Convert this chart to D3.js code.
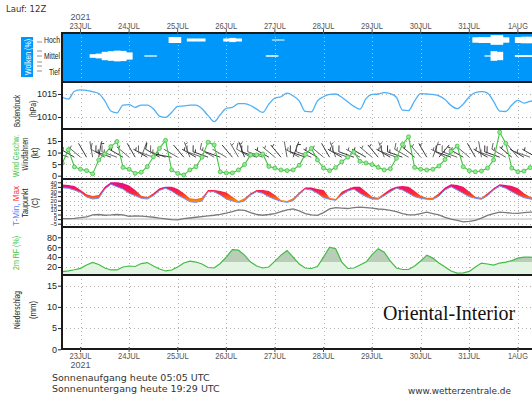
<!DOCTYPE html>
<html><head><meta charset="utf-8">
<script src="https://cdn.jsdelivr.net/npm/d3@7"></script>
<style>body{margin:0;background:#fff}svg{display:block}</style>
</head><body><svg id="c" width="532" height="395"></svg>
<script>
// ---------------- DATA ----------------
const runLabel = "Lauf: 12Z";
const yearLabel = "2021";
const dayLabels = ["23JUL","24JUL","25JUL","26JUL","27JUL","28JUL","29JUL","30JUL","31JUL","1AUG"];
const placeName = "Oriental-Interior";
const sunrise = "Sonnenaufgang heute 05:05 UTC";
const sunset = "Sonnenuntergang heute 19:29 UTC";
const credit = "www.wetterzentrale.de";
const cloudLevels = ["Hoch","Mittel","Tief"];
const pressureTicks = [1010,1015];
const windTicks = [0,5,10,15];
const tempTicks = [-5,0,5,10,15,20,25,30,35,40];
const rhTicks = [20,40,60,80];
const precipTicks = [0,5,10,15];
// 3-hourly values from 22 Jul 15Z
const cloudHigh = [0,0,0,0,0,0,0,0,0,0, 0,0,0,0,0,0,0,0,50,50, 0,25,25,25,0,0,0,25,35,25, 0,0,0,0,0,8,8,0,0,0, 0,0,0,0,0,0,0,0,0,0, 0,0,0,0,0,0,0,0,0,0, 0,0,0,0,0,0,0,0,45,50, 50,80,80,45,0,50,55,55,50];
const cloudMid = [0,0,0,0,0,30,40,70,80,90, 85,60,0,0,10,10,0,0,0,0, 0,0,0,0,0,0,0,0,0,0, 0,0,0,0,12,12,0,0,0,0, 0,0,0,0,0,0,0,0,0,0, 0,0,0,0,0,0,0,0,0,0, 0,0,0,0,0,0,0,0,0,0, 10,80,70,0,0,15,15,15,15];
const cloudLow = [0,0,0,0,0,0,0,0,0,0, 0,0,0,0,0,0,0,0,0,0, 0,0,0,0,0,0,0,0,0,0, 0,0,0,0,0,0,0,0,0,0, 0,0,0,0,0,0,0,0,0,0, 0,0,0,0,0,0,0,0,0,0, 0,0,0,0,0,0,0,0,0,0, 0,0,0,0,0,0,0,0,0];
const pressure = [1014.3,1013.9,1015.6,1015.9,1015.8,1015.5,1015.1,1013.5,1011.3,1010.9, 1012.6,1012.7,1012.1,1012.6,1012.6,1011.8,1010.2,1009.9,1011.0,1012.3, 1012.4,1012.6,1012.6,1011.8,1010.3,1009.0,1010.5,1011.9,1012.1,1012.9, 1012.9,1012.5,1011.7,1011.0,1012.8,1014.1,1014.4,1015.2,1014.6,1013.5, 1011.2,1011.1,1013.5,1014.4,1014.9,1015.0,1014.3,1013.3,1012.3,1011.7, 1014.0,1014.9,1015.0,1015.3,1015.1,1014.3,1011.5,1011.4,1013.5,1015.1, 1015.0,1014.9,1014.6,1013.8,1012.5,1011.8,1012.8,1014.4,1015.3,1015.5, 1015.2,1013.4,1011.3,1011.2,1012.6,1013.6,1013.0,1013.4,1013.6];
const windSpeed = [5.4,11.2,3.8,2.8,2.2,0.8,6.8,9.4,12.6,14.8, 3.6,2.8,1.0,1.5,3.9,8.2,11.8,15.3,2.5,1.0, 0.3,2.5,3.9,8.0,14.5,13.3,1.7,1.2,1.2,2.5, 4.8,9.0,9.0,9.4,4.0,3.3,2.5,2.2,2.5,4.5, 9.2,11.8,6.8,3.3,2.2,3.5,6.0,8.0,10.2,6.2, 5.5,4.8,3.6,2.5,3.0,7.5,13.5,16.8,3.6,2.8, 2.5,2.8,4.2,7.0,10.5,12.8,3.9,2.2,1.7,2.0, 3.3,6.8,18.8,14.0,3.3,1.7,2.0,3.5,4.5];
const windDir = [300,290,300,310,330,350,10,300,290,290, 300,310,330,20,300,290,300,290,280,300, 320,340,300,290,290,300,290,300,320,330, 340,300,290,290,300,310,320,350,20,300, 290,290,300,310,330,340,300,290,290,300, 300,310,320,340,300,290,290,300,310,320, 330,20,40,300,290,290,300,310,330,350, 300,290,290,300,310,320,300,290,300];
const tMax = [37.5,37,36,31.6,27,25,26.2,35.2,40,40, 39,36.4,31.6,25.4,24,28,33.5,35.2,35.2,32.8, 28,22.6,21.8,23.3,31.6,31.6,30.5,29,24.3,19.7, 22.6,28,31.6,31.6,30.5,26.2,20.8,19.7,22.6,29, 34.3,34.3,32.8,31.6,23.3,21.8,29.8,32.8,35.2,35.2, 29.8,24.3,23.3,28,32.8,35.2,36,35.2,30.5,25.4, 23.3,23.3,28,34.3,37.8,37.1,35.2,29.8,24.3,23.3, 28,33.5,37.8,37.1,36,33.5,28,24.3,23];
const tMin = [34,33.5,31.5,29,24,21.8,22.6,32.5,37.8,35.2, 32.6,28,25.4,22.6,21.8,25.4,31.2,33.5,30.5,26.2, 22.6,18.9,18.2,19.7,29.8,29.8,26.2,21.8,19.7,18, 19.7,26.2,29.8,28,24.3,21.5,19.3,18.2,20,27, 32.6,31.6,28,23.3,21.5,20.4,26.2,30.5,32.6,28, 24.3,21.8,21.5,25.4,29.8,33.5,31.6,28,24.3,22.6, 21.5,21.2,25,31.6,35.2,31.6,28,24.3,22.6,21.5, 25.4,31.6,36,33.5,29.8,26.2,23.3,21.8,21];
const dewPoint = [0.5,0.6,0.8,1.5,2.5,4.5,5,4.2,4.5,5, 4.5,3,3.5,3.2,2.8,2,1,0.2,-0.5,-0.8, 0.5,1.2,2,2.8,3.5,4.2,5.2,6.5,8,10, 9.5,7,5,4.2,5,6,8,10,11,9, 6,4.5,4,7,11,12.5,12,11.5,12.5,13, 12.5,12,11,10.5,9.5,8,6,4.5,4.5,6, 7.5,6,4.5,2,0,-1.5,-3,-2.5,-1.5,1, 4,6,7.5,7,6.5,6.3,7,7.5,8];
const relHum = [10.6,12,14.5,17.3,24,29.4,25,18,14,14, 20,22,21,27,29,22,16,12,14,20, 28,32,30,26,19,18,27,40,55,54, 44,30,22,18,20,32,44,53,40,26, 18,17,21,40,60,57,30,17,18,24, 30,45,57,50,32,18,15,15,22,32, 44,38,28,20,12,7.5,8,11,20,28, 26,24,28,30,33,38,40,40,38];

// ---------------- SETUP ----------------
const svg = d3.select("#c");
const t0 = Date.UTC(2021,6,22,15);
const times = pressure.map((_,i)=> new Date(t0 + i*3*3600e3));
const days = d3.utcDay.range(new Date(Date.UTC(2021,6,23)), new Date(Date.UTC(2021,7,2)));
const x = d3.scaleUtc().domain([new Date(Date.UTC(2021,6,23)), new Date(Date.UTC(2021,7,1))]).range([80.5, 517.9]);
const X0 = 62, X1 = 540;
const P = {
  cloud:{top:33,bottom:82}, pres:{top:82,bottom:129}, wind:{top:129,bottom:179},
  temp:{top:179,bottom:227}, hum:{top:227,bottom:275}, prec:{top:275,bottom:349}
};
const yP = d3.scaleLinear().domain([1010,1015]).range([117,94]);
const yW = d3.scaleLinear().domain([0,15]).range([175.7,141]);
const yT = d3.scaleLinear().domain([-5,40]).range([223.7,182.3]);
const yH = d3.scaleLinear().domain([20,80]).range([267,237.3]);
const yR = d3.scaleLinear().domain([0,15]).range([349.3,285.7]);
const FONT = "'Liberation Sans',Arial,sans-serif";
const defs = svg.append("defs");
Object.entries(P).forEach(([k,p])=>{
  defs.append("clipPath").attr("id","clip-"+k).append("rect")
    .attr("x",X0).attr("y",p.top).attr("width",X1-X0).attr("height",p.bottom-p.top);
});
function panelG(k){ return svg.append("g").attr("clip-path",`url(#clip-${k})`); }

svg.append("rect").attr("x",X0).attr("y",P.cloud.top).attr("width",X1-X0).attr("height",P.cloud.bottom-P.cloud.top).attr("fill","#0097fb");

function grid(k, scale, ticks, color){
  const g = panelG(k);
  g.selectAll("line.h").data(ticks).join("line").attr("x1",X0).attr("x2",X1)
    .attr("y1",d=>Math.round(scale(d))+0.5).attr("y2",d=>Math.round(scale(d))+0.5)
    .attr("stroke",color||"#b4b4b4").attr("stroke-width",1).attr("stroke-dasharray","1,3");
  g.selectAll("line.v").data(days).join("line").attr("y1",P[k].top).attr("y2",P[k].bottom)
    .attr("x1",d=>Math.round(x(d))+0.5).attr("x2",d=>Math.round(x(d))+0.5)
    .attr("stroke",color||"#b4b4b4").attr("stroke-width",1).attr("stroke-dasharray","1,3");
  return g;
}
grid("cloud", d=>-10, [], "#8cc8ff");
grid("pres", yP, pressureTicks);
grid("wind", yW, windTicks);
grid("temp", yT, tempTicks);
grid("hum", yH, rhTicks);
grid("prec", yR, precipTicks);

// ---- clouds
const gc = panelG("cloud");
const stepW = x(new Date(Date.UTC(2021,6,23,3))) - x(new Date(Date.UTC(2021,6,23,0)));
const levelY = {Hoch:40, Mittel:56, Tief:72};
[[cloudHigh,"Hoch"],[cloudMid,"Mittel"],[cloudLow,"Tief"]].forEach(([arr,lvl])=>{
  gc.selectAll(null).data(arr.map((v,i)=>({v,t:times[i]})).filter(d=>d.v>0)).join("rect")
    .attr("x",d=>x(d.t)-stepW/2).attr("width",stepW+0.5)
    .attr("y",d=>levelY[lvl]-d.v/100*6).attr("height",d=>Math.max(1,d.v/100*12))
    .attr("fill","#fff");
});

// ---- pressure
panelG("pres").append("path").datum(pressure)
  .attr("d", d3.line().x((d,i)=>x(times[i])).y(d=>yP(d)).curve(d3.curveMonotoneX))
  .attr("fill","none").attr("stroke","#4fb0f5").attr("stroke-width",1.3);

// ---- wind
const gw = panelG("wind");
const barbY = yW(8);
windDir.forEach((dir,i)=>{
  const spd = windSpeed[i];
  const cx = x(times[i]), cy = barbY;
  const a = dir*Math.PI/180, ux = Math.sin(a), uy = -Math.cos(a);
  const L = 16;
  let d = `M${cx},${cy}L${cx+ux*L},${cy+uy*L}`;
  const px = -uy, py = ux;
  let r = Math.round(spd/5)*5, pos = L;
  while(r>=10){ d += `M${cx+ux*pos},${cy+uy*pos}l${(px*6+ux*2)},${(py*6+uy*2)}`; pos-=2.5; r-=10; }
  if(r>=5){ if(pos===L) pos-=2.5; d += `M${cx+ux*pos},${cy+uy*pos}l${(px*3+ux*1)},${(py*3+uy*1)}`; }
  gw.append("path").attr("d",d).attr("stroke", i%2?"#555":"#222").attr("stroke-width",0.9).attr("fill","none");
});
gw.append("path").datum(windSpeed)
  .attr("d", d3.line().x((d,i)=>x(times[i])).y(d=>yW(d)))
  .attr("fill","none").attr("stroke","#3fc43f").attr("stroke-width",1.1);
gw.selectAll("circle").data(windSpeed).join("circle")
  .attr("cx",(d,i)=>x(times[i])).attr("cy",d=>yW(d)).attr("r",2)
  .attr("fill","#9be89b").attr("stroke","#3fc43f").attr("stroke-width",0.8);

// ---- temperature
const gt = panelG("temp");
const grad = defs.append("linearGradient").attr("id","tgrad").attr("gradientUnits","userSpaceOnUse")
  .attr("x1",0).attr("x2",0).attr("y1",yT(18)).attr("y2",yT(40));
[[0,"#ff9a00"],[0.2,"#ff6a10"],[0.45,"#ff2a30"],[0.75,"#f2106a"],[1,"#e2108a"]]
  .forEach(([o,c])=>grad.append("stop").attr("offset",o).attr("stop-color",c));
gt.append("line").attr("x1",X0).attr("x2",X1).attr("y1",yT(0)).attr("y2",yT(0)).attr("stroke","#d0d0d0").attr("stroke-width",1.5);
gt.append("path").datum(tMax)
  .attr("d", d3.area().x((d,i)=>x(times[i])).y0((d,i)=>yT(tMin[i])).y1(d=>yT(d)))
  .attr("fill","url(#tgrad)");
gt.append("path").datum(tMin)
  .attr("d", d3.line().x((d,i)=>x(times[i])).y(d=>yT(d)))
  .attr("fill","none").attr("stroke","#6f8cff").attr("stroke-width",1);
gt.append("path").datum(dewPoint)
  .attr("d", d3.line().x((d,i)=>x(times[i])).y(d=>yT(d)))
  .attr("fill","none").attr("stroke","#7a7a7a").attr("stroke-width",1.3);

// ---- humidity
const gh = panelG("hum");
gh.append("path").datum(relHum)
  .attr("d", d3.area().x((d,i)=>x(times[i])).y0(P.hum.bottom).y1(d=>yH(d)))
  .attr("fill","#e3f4e3");
defs.append("clipPath").attr("id","rhHigh").append("rect").attr("x",X0).attr("y",P.hum.top).attr("width",X1-X0).attr("height",yH(30)-P.hum.top);
gh.append("g").attr("clip-path","url(#rhHigh)").append("path").datum(relHum)
  .attr("d", d3.area().x((d,i)=>x(times[i])).y0(yH(30)).y1(d=>yH(d)))
  .attr("fill","#b9cdb9");
gh.append("path").datum(relHum)
  .attr("d", d3.line().x((d,i)=>x(times[i])).y(d=>yH(d)))
  .attr("fill","none").attr("stroke","#44bb44").attr("stroke-width",1.2);

// ---- borders (panel separators)
const seps = [P.cloud.top, P.cloud.bottom, P.pres.bottom, P.wind.bottom, P.temp.bottom, P.hum.bottom, P.prec.bottom];
svg.selectAll("line.sep").data(seps).join("line").attr("x1",X0-1).attr("x2",X1)
  .attr("y1",d=>d).attr("y2",d=>d).attr("stroke","#1a1a1a").attr("stroke-width",2).attr("shape-rendering","crispEdges");
svg.append("line").attr("x1",X0).attr("x2",X0).attr("y1",P.cloud.top).attr("y2",P.prec.bottom)
  .attr("stroke","#1a1a1a").attr("stroke-width",2).attr("shape-rendering","crispEdges");

// ---- y axes
function yaxis(scale, ticks, size){
  const g = svg.append("g").attr("transform",`translate(${X0-1},0)`)
    .call(d3.axisLeft(scale).tickValues(ticks).tickSize(3).tickFormat(d3.format("d")));
  g.select(".domain").remove();
  g.selectAll("text").attr("font-family",FONT).attr("font-size",size).attr("fill","#222").attr("x",-4);
  g.selectAll("line").attr("stroke","#222");
}
yaxis(yP, pressureTicks, 9);
yaxis(yW, windTicks, 9);
yaxis(yT, tempTicks, 5.8);
yaxis(yH, rhTicks, 9);
yaxis(yR, precipTicks, 9);

// cloud level labels
cloudLevels.forEach(l=>{
  svg.append("text").attr("x",60).attr("y",levelY[l]+3).attr("text-anchor","end")
    .attr("font-family",FONT).attr("font-size",9).attr("fill","#222")
    .attr("textLength", l==="Tief"?11:16).attr("lengthAdjust","spacingAndGlyphs").text(l);
});
[42,51,56,62,66,71].forEach(yy=>{
  svg.append("line").attr("x1",37).attr("x2",42).attr("y1",yy).attr("y2",yy).attr("stroke","#777").attr("stroke-width",0.8);
});

// ---- time axes
function dayAxis(yLab, yYear, tickY1, tickY2){
  days.forEach((d,i)=>{
    if(!dayLabels[i]) return;
    svg.append("text").attr("x",x(d)).attr("y",yLab).attr("text-anchor","middle")
      .attr("font-family",FONT).attr("font-size",9).attr("fill","#555")
      .attr("textLength", dayLabels[i].length===5?22:20).attr("lengthAdjust","spacingAndGlyphs").text(dayLabels[i]);
    svg.append("line").attr("x1",x(d)).attr("x2",x(d)).attr("y1",tickY1).attr("y2",tickY2).attr("stroke","#555");
  });
  svg.append("text").attr("x",x(days[0])).attr("y",yYear).attr("text-anchor","middle")
    .attr("font-family",FONT).attr("font-size",9).attr("fill","#555").text(yearLabel);
}
dayAxis(29, 20, 29, 34);
dayAxis(359, 368, 347, 352);

// ---- side labels
function vtext(cx, cy, parts, len, size){
  const t = svg.append("text").attr("transform",`translate(${cx},${cy}) rotate(-90)`)
    .attr("text-anchor","middle").attr("font-family",FONT).attr("font-size",size||9.5)
    .attr("textLength",len).attr("lengthAdjust","spacingAndGlyphs");
  parts.forEach(([s,c])=>t.append("tspan").attr("fill",c).text(s));
}
svg.append("rect").attr("x",21).attr("y",37).attr("width",12).attr("height",40).attr("fill","#0097fb");
vtext(31, 57, [["Wolken (%)","#fff"]], 36, 9);
vtext(20, 111, [["Bodendruck","#222"]], 32);
vtext(36, 109, [["(hPa)","#222"]], 17);
vtext(19, 156, [["Wind Geschw.","#3fc43f"]], 42);
vtext(28, 154, [["Windfahnen","#222"]], 33);
vtext(38, 153, [["(kt)","#222"]], 11);
vtext(19, 206, [["T-Min, ","#5b7cff"],["Max","#ff2a2a"]], 40);
vtext(28, 203, [["Taupunkt","#222"]], 29);
vtext(38, 203, [["(C)","#222"]], 10);
vtext(19, 253, [["2m RF (%)","#3fc43f"]], 34);
vtext(20, 310, [["Niederschlag","#222"]], 38);
vtext(36, 310, [["(mm)","#222"]], 18);

// ---- texts
const MONO = "'DejaVu Sans',sans-serif";
svg.append("text").attr("x",6).attr("y",12).attr("font-family",MONO).attr("font-size",8.5).attr("fill","#333").text(runLabel);
svg.append("text").attr("x",52).attr("y",381).attr("font-family",MONO).attr("font-size",9.5).attr("fill","#333").text(sunrise);
svg.append("text").attr("x",52).attr("y",392).attr("font-family",MONO).attr("font-size",9.5).attr("fill","#333").text(sunset);
svg.append("text").attr("x",408).attr("y",394).attr("font-family",MONO).attr("font-size",8.5).attr("fill","#333")
  .attr("textLength",103).attr("lengthAdjust","spacingAndGlyphs").text(credit);
svg.append("text").attr("x",383).attr("y",320).attr("font-family","'Liberation Serif','DejaVu Serif',serif").attr("font-size",20).attr("fill","#111").text(placeName);
</script></body></html>
